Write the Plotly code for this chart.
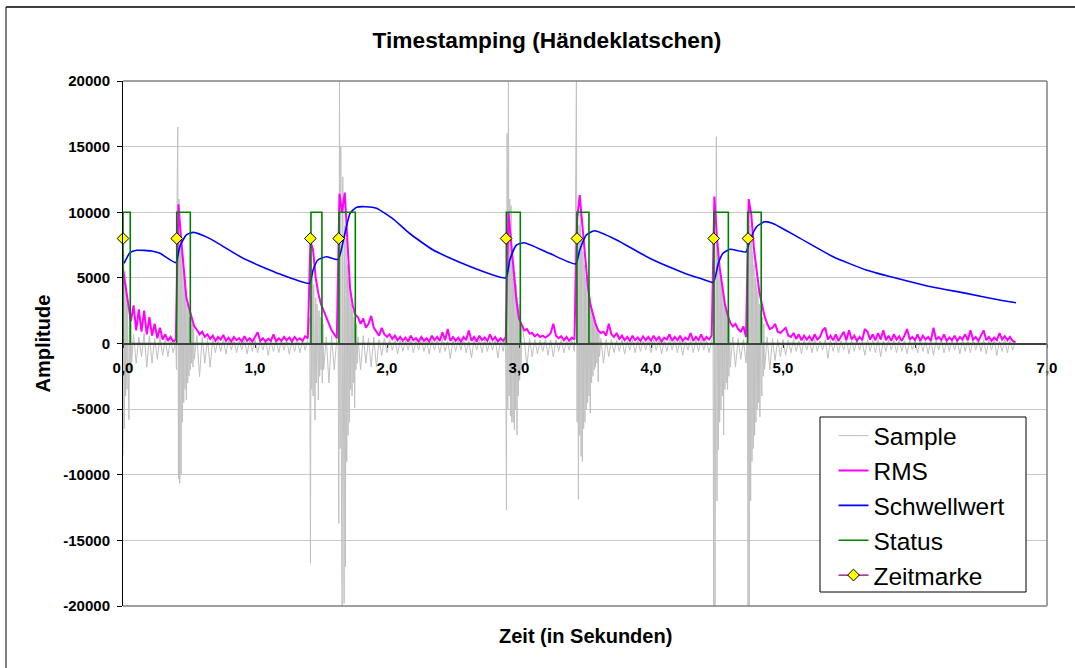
import plotly.graph_objects as go

# ---------------------------------------------------------------- axes
X_TICKS = [0, 1, 2, 3, 4, 5, 6, 7]
X_TICK_LABELS = ["0,0", "1,0", "2,0", "3,0", "4,0", "5,0", "6,0", "7,0"]
Y_TICKS = [-20000, -15000, -10000, -5000, 0, 5000, 10000, 15000, 20000]
Y_TICK_LABELS = [str(v) for v in Y_TICKS]

# ------------------------------------------- RMS, one value every 20 ms
GRID_STEP = 0.02
rms_values = [
    # 0.00 s
    5600, 4300, 3000, 1700, 2900, 1000, 2600, 900, 2500, 700, 2000, 600, 1500,
    400, 1200, 300, 700, 200, 500, 150, 300, 10600, 8000, 5400, 3500,
    # 0.50 s
    2700, 2000, 1300, 1050, 700, 900, 500, 700, 350, 600, 200, 500, 300,
    650, 200, 450, 150, 500, 250, 400, 150, 550, 200, 400, 150,
    # 1.00 s
    500, 850, 200, 400, 150, 350, 200, 700, 150, 400, 200, 500, 250,
    450, 150, 500, 250, 400, 200, 550, 400, 7800, 7100, 5000, 3800,
    # 1.50 s
    3000, 2500, 2000, 1400, 1000, 700, 400, 11400, 10000, 11500, 7500, 4200, 2900,
    2200, 2000, 1500, 1900, 1200, 1500, 2100, 1200, 900, 600, 1200, 700,
    # 2.00 s
    500, 700, 350, 600, 250, 500, 200, 450, 150, 600, 250, 400, 150,
    500, 200, 400, 150, 600, 250, 500, 200, 850, 250, 1100, 200,
    # 2.50 s
    500, 200, 450, 150, 500, 250, 1000, 200, 500, 150, 600, 250, 450,
    200, 700, 250, 500, 150, 400, 200, 500, 10000, 7800, 5300, 3300,
    # 3.00 s
    1900, 1400, 1000, 1100, 750, 800, 550, 700, 500, 600, 450, 600, 800,
    1500, 600, 400, 550, 250, 500, 200, 450, 300, 9500, 11300, 9000,
    # 3.50 s
    6600, 4500, 3000, 2200, 1500, 1000, 800, 900, 600, 1500, 700, 500, 800,
    350, 600, 250, 500, 200, 600, 250, 450, 200, 550, 250, 500,
    # 4.00 s
    200, 600, 250, 500, 150, 450, 300, 700, 200, 500, 250, 600, 200,
    450, 300, 800, 200, 500, 250, 700, 200, 500, 300, 600, 11200,
    # 4.50 s
    8000, 5800, 4500, 3000, 2200, 1600, 1300, 1500, 1100, 900, 1300, 500, 11000,
    9800, 7200, 5500, 4000, 3000, 2100, 1500, 1100, 1200, 1500, 900, 800,
    # 5.00 s
    1000, 1200, 600, 500, 800, 350, 700, 250, 600, 300, 550, 200, 700,
    300, 500, 1000, 1200, 300, 600, 250, 700, 200, 550, 900, 250,
    # 5.50 s
    1000, 300, 600, 200, 500, 250, 1100, 900, 300, 700, 250, 800, 300,
    1000, 250, 600, 200, 700, 300, 550, 200, 600, 1100, 300, 500,
    # 6.00 s
    250, 700, 200, 600, 300, 500, 200, 1200, 300, 500, 250, 700, 200,
    450, 250, 600, 200, 500, 300, 700, 250, 1000, 300, 500, 200,
    # 6.50 s
    600, 1000, 250, 500, 200, 450, 250, 800, 300, 550, 250, 500, 200, 100,
]

# ------------------- quiet-signal samples on the same 20 ms grid
# (None where a clap burst below supplies the detail)
sample_background = [
    # 0.00 s
    None, None, None, None, 700, -1500, 500, -1000, 800, -1800, 600, -1500, 400,
    -1200, 500, -900, 350, -1000, 300, -700, None, None, None, None, None,
    # 0.50 s
    None, None, None, 600, -2530, 500, -1500, 400, -1800, 300, -700, 350, -600,
    300, -800, 250, -500, 300, -700, 200, -500, 300, -800, 250, -600,
    # 1.00 s
    300, -700, 250, -500, 300, -900, 200, -600, 300, -700, 250, -500, 300,
    -800, 200, -600, 300, -700, 250, -500, 300, None, None, None, None,
    # 1.50 s
    None, None, 500, -3000, 600, -2000, 400, None, None, None, None, None, None,
    None, 500, -2000, 600, -1500, 400, -1800, 500, -1800, 300, -900, 400,
    # 2.00 s
    -700, 300, -500, 250, -800, 300, -600, 200, -500, 300, -700, 250, -500,
    300, -600, 200, -800, 300, -500, 250, -700, 300, -600, 200, -1150,
    # 2.50 s
    300, -600, 250, -500, 300, -700, 200, -1100, 300, -500, 250, -700, 300,
    -600, 200, -500, 300, -1100, 250, -600, None, None, None, None, None,
    # 3.00 s
    None, None, 300, -1800, 400, -1000, 300, -800, 250, -600, 300, -900, 250,
    -1000, 300, -600, 250, -700, 200, -500, 300, -600, None, None, None,
    # 3.50 s
    None, None, None, None, None, None, 400, -1500, 300, -1000, 300, -700, 250,
    -600, 300, -800, 200, -500, 300, -700, 250, -600, 200, -500, 300,
    # 4.00 s
    -700, 250, -500, 300, -800, 200, -600, 300, -500, 250, -700, 300, -900,
    200, -500, 300, -700, 250, -600, 300, -500, 200, -700, 300, None,
    # 4.50 s
    None, None, None, None, None, None, 500, -1800, 400, -1200, 300, -1500, None,
    None, None, None, None, None, None, 500, -2000, 400, -1300, 300, -1000,
    # 5.00 s
    300, -900, 250, -700, 300, -600, 200, -800, 300, -500, 250, -700, 300,
    -600, 200, -500, 300, -1130, 250, -600, 300, -700, 200, -500, 300,
    # 5.50 s
    -800, 250, -600, 300, -500, 200, -900, 300, -600, 250, -700, 300, -1000,
    200, -600, 300, -500, 250, -700, 300, -600, 200, -800, 300, -500,
    # 6.00 s
    250, -700, 300, -600, 200, -800, 300, -900, 250, -500, 300, -700, 200,
    -600, 300, -500, 250, -800, 300, -600, 200, -700, 300, -500, 250,
    # 6.50 s
    -600, 300, -800, 250, -500, 300, -900, 200, -600, 300, -700, 250, -500, 100,
]

# ------------------------------- clap bursts, one value every 5 ms
BURST_STEP = 0.005
burst_starts = [0.000, 0.400, 1.415, 1.630, 2.895, 3.435, 4.470, 4.730]
burst_1 = [-8500, 7000, -6500, 5500, -4000, 4500, -3500, 3000, -2500, -5800,
           2500, -2000, 2000, -1500]
burst_2 = [300, -2000, 11500, 16500, -10300, 11000, -10650, 9000, -10000, 7000,
           -6000, 6000, -4500, 5000, -3500, 4000, -4300, 3000, -3000, 2500,
           -2500, 2000, -2000, 1800, -1500, 1500, -1800, 1200, -1200]
burst_3 = [2000, -16750, 6000, -3500, 5000, -4000, 4500, -3500, -5830, 3500,
           -3000, 3000, -3500, -4300, 2500, -2500, 2000, -2000, 1800, -3000,
           1500, -2000]
burst_4 = [500, -13700, 20400, -8000, 15000, -12000, -20300, 12700, -15000,
           -19800, 9000, -17000, 8000, -9000, 6000, -7000, 5000, -6000, 4000,
           -3500, 3000, -4000, 2500, -3000, 2000, -4900, 1800, -2000, 1500, -1500]
burst_5 = [400, -1500, -12690, 16000, -5000, 20400, -4000, 11000, -5500, 10500,
           -6000, 7000, -6000, 6000, -6590, 5000, -5000, 4500, -6970, 3500,
           -4000, 3000, -2800, 2000, -2000, 1500]
burst_6 = [20400, -6000, 10000, -11870, 9000, -7000, 10170, -8600, 8000, -9000,
           7000, -6500, 6000, -6000, 5000, -5000, 4500, -4500, 4000, -4000,
           3500, -5320, 3000, -3000, 2500, -2500, 2000, -2000, 1800, -1800,
           1500, -1500, 1200, -2900, 1000, -1000]
burst_7 = [500, -20300, 9000, -20300, 11000, 15760, -12000, 8000, -8100, 6000,
           -6000, 5000, -5000, 4500, -4000, 4000, -6970, 3500, -3500, 3000,
           -3000, 2500, -3500, 2000, -2500, 1500, -1800]
burst_8 = [500, -20300, 10900, -20300, 9000, -12000, 8000, -9000, 7000, -8000,
           6000, -7000, 5000, -6000, 4500, -5000, 4000, -4500, 3000, -5580,
           2500, -3000, -4000, 2000, -2500, 1500, -2000]

# ----------------------------------------------- adaptive threshold
threshold_t = [0.008, 0.053, 0.104, 0.217, 0.28, 0.40, 0.43, 0.48, 0.533, 0.655,
               0.91, 1.16, 1.413, 1.44, 1.476, 1.54, 1.63, 1.67, 1.72, 1.77,
               1.84, 1.92, 2.05, 2.17, 2.35, 2.60, 2.90, 2.93, 2.98, 3.04,
               3.23, 3.43, 3.46, 3.51, 3.57, 3.74, 3.99, 4.245, 4.37, 4.472,
               4.51, 4.545, 4.60, 4.72, 4.75, 4.80, 4.86, 4.92, 5.13, 5.38,
               5.63, 5.89, 6.14, 6.39, 6.64, 6.765]
threshold_v = [6110, 6920, 7100, 7050, 6870, 6160, 7380, 8270, 8470, 8010,
               6490, 5400, 4590, 5600, 6360, 6610, 6410, 7890, 9920, 10380,
               10420, 10300, 9460, 8400, 7120, 5980, 5010, 6360, 7500, 7680,
               6870, 6060, 7120, 8270, 8590, 7890, 6490, 5400, 4970, 4660,
               6110, 6870, 7180, 6990, 7890, 8900, 9280, 9160, 8010, 6610,
               5600, 4890, 4280, 3820, 3310, 3110]

# ------------------------------------------ detector state (0 / 10000)
status_t = [0.0, 0.0, 0.055, 0.407, 0.51, 1.424, 1.507, 1.636, 1.76, 2.904,
            3.010, 3.439, 3.530, 4.477, 4.586, 4.732, 4.835, 6.765]
status_v = [0, 10000, 0, 10000, 0, 10000, 0, 10000, 0, 10000,
            0, 10000, 0, 10000, 0, 10000, 0, 0]

# ---------------------------------------------------- time stamps
timestamp_t = [0.0, 0.407, 1.419, 1.634, 2.902, 3.439, 4.475, 4.735]
TIMESTAMP_LEVEL = 8000

# ======================================================== assemble
grid_t = [round(i * GRID_STEP, 3) for i in range(len(rms_values))]

bursts = [burst_1, burst_2, burst_3, burst_4, burst_5, burst_6, burst_7, burst_8]
windows = [(s, s + (len(b) - 1) * BURST_STEP) for s, b in zip(burst_starts, bursts)]

sample_pts = []
for t, v in zip(grid_t, sample_background):
    if v is None:
        continue
    if any(a - 1e-9 <= t <= b + 1e-9 for a, b in windows):
        continue
    sample_pts.append((t, v))
for s, b in zip(burst_starts, bursts):
    for k, v in enumerate(b):
        sample_pts.append((round(s + k * BURST_STEP, 4), v))
sample_pts.sort(key=lambda p: p[0])
sample_t = [p[0] for p in sample_pts]
sample_v = [p[1] for p in sample_pts]

stamp_x, stamp_y = [], []
for t in timestamp_t:
    stamp_x += [t, None]
    stamp_y += [TIMESTAMP_LEVEL, None]

FONT = "Liberation Sans, Arial, Helvetica, sans-serif"

fig = go.Figure()
fig.add_trace(go.Scatter(x=sample_t, y=sample_v, mode="lines", name="Sample",
                         line=dict(color="#C0C0C0", width=1),
                         cliponaxis=False, legendgroup="a"))
fig.add_trace(go.Scatter(x=grid_t, y=rms_values, mode="lines", name="RMS",
                         line=dict(color="#FF00FF", width=2), legendgroup="b"))
fig.add_trace(go.Scatter(x=threshold_t, y=threshold_v, mode="lines", name="Schwellwert",
                         line=dict(color="#0000FF", width=1.6, shape="spline", smoothing=0.5),
                         legendgroup="c"))
fig.add_trace(go.Scatter(x=status_t, y=status_v, mode="lines", name="Status",
                         line=dict(color="#008000", width=1.6, shape="hv"), legendgroup="d"))
fig.add_trace(go.Scatter(x=stamp_x, y=stamp_y, mode="lines+markers", name="Zeitmarke",
                         line=dict(color="#800080", width=1.2),
                         marker=dict(symbol="diamond", size=9, color="#FFFF00",
                                     line=dict(color="black", width=1)),
                         cliponaxis=False, legendgroup="e"))

# pixel helpers for the 924 x 525 plot area (left 123, top 81)
def px_x(px):
    return (px - 123) / 924.0

def px_y(py):
    return (606 - py) / 525.0

shapes = [
    # plot-area border (top, right, bottom)
    dict(type="line", xref="paper", yref="paper", x0=0, x1=1, y0=1, y1=1,
         line=dict(color="#808080", width=1.5)),
    dict(type="line", xref="paper", yref="paper", x0=1, x1=1, y0=0, y1=1,
         line=dict(color="#808080", width=1.5)),
    dict(type="line", xref="paper", yref="paper", x0=0, x1=1, y0=0, y1=0,
         line=dict(color="#808080", width=1.5)),
    # chart frame
    dict(type="line", xref="paper", yref="paper", x0=px_x(6), x1=px_x(1090),
         y0=px_y(7), y1=px_y(7), line=dict(color="#404040", width=2)),
    dict(type="line", xref="paper", yref="paper", x0=px_x(6), x1=px_x(6),
         y0=px_y(7), y1=px_y(690), line=dict(color="black", width=1)),
    # legend box
    dict(type="rect", xref="paper", yref="paper", x0=px_x(820), x1=px_x(1026),
         y0=px_y(592), y1=px_y(417), fillcolor="white",
         line=dict(color="black", width=1), layer="above"),
]

fig.update_layout(
    width=1075, height=668,
    margin=dict(l=123, r=28, t=81, b=62),
    paper_bgcolor="white", plot_bgcolor="white",
    font=dict(family=FONT, color="black"),
    title=dict(text="<b>Timestamping (Händeklatschen)</b>", xref="container",
               yref="container", x=547 / 1075, y=1 - 40 / 668,
               xanchor="center", yanchor="middle", font=dict(size=22.7)),
    xaxis=dict(range=[0, 7], tickvals=X_TICKS, ticktext=X_TICK_LABELS,
               anchor="free", position=0.5, showgrid=False, zeroline=False,
               showline=True, linecolor="#404040", linewidth=1.5,
               ticks="outside", ticklen=4, tickcolor="#404040",
               tickfont=dict(size=15, weight="bold"), ticklabelstandoff=7),
    yaxis=dict(range=[-20000, 20000], tickvals=Y_TICKS, ticktext=Y_TICK_LABELS,
               showgrid=True, gridcolor="#C8C8C8", gridwidth=1, zeroline=False,
               showline=True, linecolor="black", linewidth=1,
               ticks="outside", ticklen=5, tickcolor="black",
               tickfont=dict(size=15, weight="bold"), ticklabelstandoff=4),
    showlegend=True,
    legend=dict(x=px_x(833.5), y=px_y(413.2), xanchor="left", yanchor="top",
                bgcolor="rgba(0,0,0,0)", borderwidth=0,
                font=dict(size=24.5, family=FONT), traceorder="grouped",
                tracegroupgap=0),
    shapes=shapes,
    annotations=[
        dict(text="<b>Zeit (in Sekunden)</b>", xref="paper", yref="paper",
             x=0.5, y=px_y(636), showarrow=False, font=dict(size=20),
             xanchor="center", yanchor="middle"),
        dict(text="<b>Amplitude</b>", xref="paper", yref="paper",
             x=px_x(42), y=0.5, showarrow=False, textangle=-90,
             font=dict(size=20), xanchor="center", yanchor="middle"),
    ],
)

fig.write_html("out.html")
